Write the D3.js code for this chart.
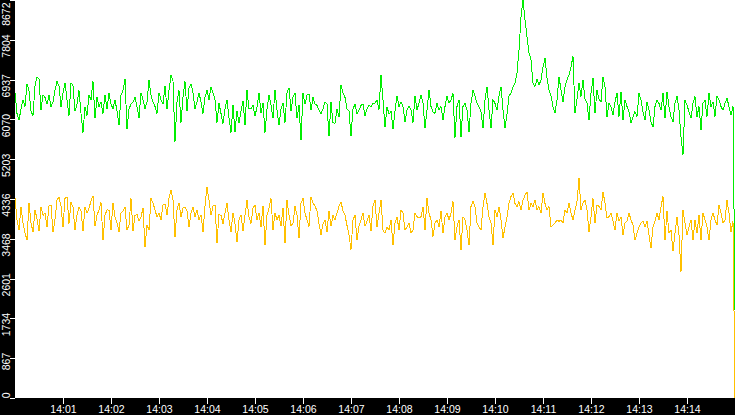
<!DOCTYPE html>
<html>
<head>
<meta charset="utf-8">
<script src="https://cdn.jsdelivr.net/npm/d3@7"></script>
<style>
  html, body { margin: 0; padding: 0; background: #fff; }
  svg { display: block; }
  .axis text { font-family: "Liberation Sans", Arial, sans-serif; font-size: 10.5px; fill: #fff; }
  .axis line { stroke: #fff; }
  .series { fill: none; stroke-width: 1; shape-rendering: crispEdges; }
</style>
</head>
<body>
<div id="chart"></div>
<script>
// Samples are 2.5 s apart, starting 14:00:00; the last one closes the window at 14:15.
const startTime = new Date(2000, 0, 1, 14, 0, 0);
const endTime = new Date(2000, 0, 1, 14, 15, 0);
const sampleStep = 2.5;

const yMax = 8672;
const yTicks = [0, 867.2, 1734.4, 2601.6, 3468.8, 4336, 5203.2, 6070.4, 6937.6, 7804.8, 8672];
const xTickMinutes = [1, 2, 3, 4, 5, 6, 7, 8, 9, 10, 11, 12, 13, 14];

const greenValues = [
  6650, 6200, 6050, 6300, 6500, 6350, 6850, 6700, 6250, 6150,
  6800, 7000, 6950, 6280, 6600, 6550, 6400, 6600, 6350, 6450,
  6700, 6900, 6800, 6350, 6650, 6870, 6500, 6150, 6870, 6800,
  6250, 6400, 6700, 6200, 5780, 6350, 6150, 6600, 6500, 6900,
  6100, 6550, 6350, 6450, 6200, 6600, 6300, 6650, 6400, 6300,
  6500, 6250, 5950, 6600, 6700, 6950, 5860, 6300, 6400, 6450,
  6550, 6350, 6100, 6650, 6500, 6300, 6450, 6930, 6600, 6450,
  6350, 6200, 6650, 6500, 6400, 6800, 6300, 6700, 7040, 6900,
  5580, 6450, 6700, 6000, 6550, 6900, 6250, 6750, 6850, 6650,

  6300, 6450, 6650, 6450, 6200, 6550, 6710, 6500, 6780, 6650,
  6500, 6000, 6420, 6200, 5980, 6300, 6500, 6100, 5780, 6380,
  5800, 6260, 5990, 6250, 6480, 5950, 6710, 6300, 6300, 6380,
  6150, 6330, 6650, 6220, 6430, 5780, 6300, 6600, 6380, 6100,
  6720, 6270, 5950, 6300, 6430, 6000, 6650, 6760, 6260, 6550,
  6650, 6100, 6380, 5620, 6650, 6400, 6600, 6620, 6270, 6550,
  6400, 6380, 6270, 6200, 6300, 6450, 6400, 5700, 6450, 6000,
  5980, 6300, 6120, 6820, 6650, 6550, 6300, 6250, 5700, 6300,
  6400, 6180, 6270, 6380, 6400, 6150, 6300, 6380, 6350, 6420,

  6420, 6500, 6280, 7040, 6500, 5900, 6350, 6180, 6250, 5860,
  6250, 6580, 6350, 6450, 6350, 6010, 6280, 6350, 6280, 6000,
  6580, 6280, 6420, 6600, 6420, 5880, 6280, 6710, 6350, 6230,
  6200, 6420, 6280, 6350, 6060, 6350, 6580, 6420, 6500, 6640,
  5670, 6350, 6500, 5690, 6350, 6420, 6280, 5800, 6420, 6710,
  6580, 6420, 6350, 6230, 5880, 6500, 6780, 6280, 5880, 6500,
  6420, 6280, 6580, 6780, 6280, 5880, 6180, 6580, 6640, 6780,
  6860, 7080, 7580, 8300, 8672, 8240, 7870, 7520, 7370, 6860,
  6790, 6940, 6820, 6930, 7210, 7400, 6980, 6710, 6580, 6350,

  6210, 6490, 7000, 6710, 6450, 6780, 6930, 7040, 7210, 7450,
  6200, 6510, 6860, 6570, 6930, 6510, 6420, 6060, 6640, 6970,
  6200, 6710, 6510, 6450, 7000, 6780, 6130, 6420, 6350, 6170,
  6450, 6640, 6130, 6670, 6060, 6490, 6350, 6240, 5990, 6130,
  6240, 6130, 6640, 6490, 6240, 6060, 6450, 6270, 6020, 5900,
  6350, 6490, 6420, 6270, 6640, 6100, 6670, 6350, 6130, 6020,
  6420, 6570, 6270, 5690, 5300, 6490, 6380, 6240, 6100, 6420,
  6570, 6130, 6350, 5840, 6420, 6490, 6130, 6640, 6350, 6450,
  6130, 6570, 6490, 6350, 6270, 6420, 6530, 6350, 6170, 6350,
  1917
];

const orangeValues = [
  4360, 3880, 3660, 4160, 3810, 3600, 3440, 4250, 3810, 3620,
  4100, 3900, 3640, 4160, 3980, 4030, 3730, 4180, 4200, 3620,
  3890, 4310, 4380, 4180, 3730, 4350, 4380, 3800, 4270, 4160,
  3660, 3990, 4150, 4080, 3640, 4160, 4030, 4130, 4300, 4400,
  3740, 3990, 4090, 4260, 3440, 3980, 4100, 4090, 3660, 4250,
  3950, 3820, 3620, 4030, 4080, 4160, 3660, 3770, 4350, 3640,
  3980, 4000, 3860, 3940, 4140, 3290, 3770, 3660, 4350, 4250,
  4100, 3940, 4030, 3880, 4200, 4230, 3990, 4350, 4530, 4310,
  3500, 4100, 4250, 3940, 4140, 4160, 4080, 3730, 4030, 4160,

  3950, 4100, 3880, 3990, 3620, 4180, 4600, 4310, 3980, 4180,
  4200, 3380, 4000, 3980, 3800, 4030, 4250, 3880, 3620, 4030,
  3800, 3400, 3880, 3990, 3640, 3980, 4310, 3950, 3800, 4140,
  4200, 3880, 4030, 3730, 4180, 3330, 3980, 4140, 4350, 3660,
  4030, 3880, 3980, 3740, 4140, 3380, 4310, 3980, 3760, 3800,
  4180, 3980, 3480, 4250, 4350, 4030, 3880, 3730, 4380, 4250,
  4180, 4080, 3800, 3550, 3800, 3880, 3620, 4080, 3740, 3980,
  3880, 4030, 4180, 4270, 4080, 3980, 3760, 3550, 3230, 3880,
  3980, 3440, 3740, 3880, 4030, 3740, 3850, 3980, 3640, 4180,

  4310, 3730, 4030, 4310, 3660, 3590, 3730, 3660, 3880, 3330,
  3810, 3950, 3660, 4100, 4030, 3660, 3730, 3810, 3590, 3660,
  4030, 3950, 3920, 3950, 4170, 3660, 4350, 4030, 3880, 3520,
  3810, 3880, 3730, 4070, 3590, 3950, 4030, 3880, 4030, 4280,
  3440, 3730, 3880, 3230, 3950, 3880, 3660, 3330, 4170, 4280,
  4170, 3810, 3730, 3660, 4170, 4460, 4240, 3950, 3810, 3330,
  4100, 3950, 4170, 3880, 3480, 3730, 3950, 4240, 4390, 4460,
  4240, 4170, 4280, 4100, 4310, 4420, 4490, 4100, 4240, 4170,
  4310, 4100, 4170, 4030, 4460, 4240, 4100, 4170, 3730, 3770,

  3810, 3880, 3850, 3880, 3810, 4100, 4030, 4250, 4030, 3880,
  4100, 4280, 4790, 4100, 4250, 4310, 4100, 3620, 3950, 4350,
  3810, 4210, 4170, 4100, 4490, 4250, 3920, 3950, 4030, 3850,
  3660, 4030, 3850, 3950, 3550, 3810, 3850, 4030, 3880, 3770,
  3440, 3590, 3730, 3810, 3850, 3730, 3850, 3550, 3270, 3730,
  3850, 4030, 3880, 4170, 4390, 3440, 4070, 3590, 3660, 3200,
  3590, 3950, 3550, 2750, 4100, 3810, 3550, 3730, 3880, 3440,
  3880, 3590, 3990, 3440, 4030, 3880, 3730, 3440, 3880, 4030,
  3880, 3770, 4210, 4030, 3810, 3880, 4310, 4030, 3620, 3850,
  0
];

const seriesColors = { green: '#00ee00', orange: '#ffc000' };

// Canvas
const width = 735, height = 415;
const margin = { top: 0, right: 0, bottom: 17, left: 15 };
const plotW = width - margin.left - margin.right;
const plotH = height - margin.top - margin.bottom;

const times = greenValues.map((d, i) => new Date(startTime.getTime() + i * sampleStep * 1000));

const x = d3.scaleTime().domain([startTime, endTime]).range([margin.left, margin.left + plotW]);
const y = d3.scaleLinear().domain([0, yMax]).range([margin.top + plotH, margin.top]);

const svg = d3.select('#chart')
  .append('svg')
  .attr('width', width)
  .attr('height', height);

// Black bands behind the axes.
svg.append('rect')
  .attr('x', 0).attr('y', 0)
  .attr('width', margin.left).attr('height', height)
  .attr('fill', '#000');
svg.append('rect')
  .attr('x', 0).attr('y', margin.top + plotH)
  .attr('width', width).attr('height', margin.bottom)
  .attr('fill', '#000');

// Lines (orange on top, as in the original).
const line = d3.line()
  .x((d, i) => x(times[i]))
  .y(d => y(d));

svg.append('path')
  .attr('class', 'series')
  .attr('stroke', seriesColors.green)
  .attr('d', line(greenValues));

svg.append('path')
  .attr('class', 'series')
  .attr('stroke', seriesColors.orange)
  .attr('d', line(orangeValues));

// X axis.
const xAxis = d3.axisBottom(x)
  .tickValues(xTickMinutes.map(m => new Date(startTime.getTime() + m * 60000)))
  .tickFormat(d3.timeFormat('%H:%M'))
  .tickSize(6)
  .tickPadding(1.5);

svg.append('g')
  .attr('class', 'x axis')
  .attr('transform', `translate(0,${margin.top + plotH})`)
  .call(xAxis)
  .call(g => g.select('.domain').remove())
  .call(g => g.selectAll('.tick line').attr('shape-rendering', 'crispEdges'));

// Y axis, labels turned to read upwards.
const yAxis = d3.axisLeft(y)
  .tickValues(yTicks)
  .tickFormat(d => Math.floor(d))
  .tickSize(5);

svg.append('g')
  .attr('class', 'y axis')
  .attr('transform', `translate(${margin.left},0)`)
  .call(yAxis)
  .call(g => g.select('.domain').remove())
  .call(g => g.selectAll('.tick line').attr('shape-rendering', 'crispEdges'))
  .call(g => g.selectAll('.tick text')
    .attr('transform', 'rotate(-90)')
    .attr('text-anchor', 'end')
    .attr('dy', null)
    // keep the top label inside the band
    .attr('x', d => Math.min(6, y(d) - 2))
    .attr('y', -5));
</script>
</body>
</html>
